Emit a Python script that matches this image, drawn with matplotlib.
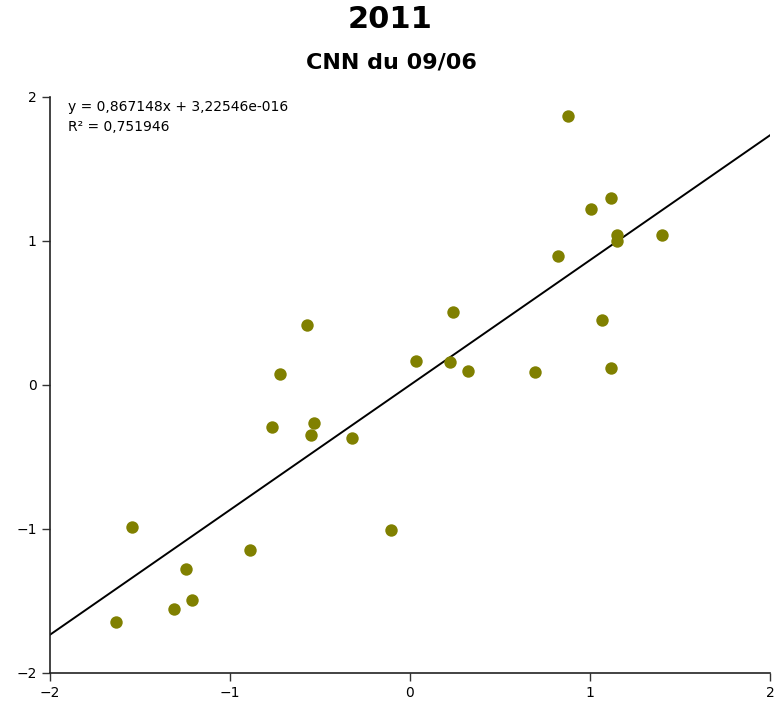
import numpy as np
import matplotlib
matplotlib.use('Agg')
from matplotlib import pyplot as plt

# scatter data
x_vals = [-1.633, -1.544, -1.311, -1.244, -1.211, -0.889, -0.767, -0.722,
          -0.572, -0.550, -0.533, -0.322, -0.106, 0.033, 0.222, 0.239,
          0.322, 0.694, 0.822, 0.878, 1.006, 1.067, 1.117, 1.117,
          1.150, 1.150, 1.400]
y_vals = [-1.646, -0.986, -1.556, -1.278, -1.493, -1.146, -0.292, 0.076,
          0.417, -0.347, -0.264, -0.368, -1.007, 0.167, 0.160, 0.507,
          0.097, 0.090, 0.896, 1.868, 1.222, 0.451, 1.299, 0.118,
          1.042, 1.000, 1.042]

# regression line
slope = 0.867148
intercept = 3.22546e-16
r2 = 0.751946

ticks = [-2, -1, 0, 1, 2]
point_color = '#808000'

fig = plt.figure(figsize=(7.76, 7.04), dpi=100)
ax = fig.add_axes([50 / 776, 31 / 704, 720 / 776, 576 / 704])

ax.scatter(x_vals, y_vals, s=80, color=point_color, zorder=3, linewidths=0)

line_x = np.array([-2.0, 2.0])
ax.plot(line_x, slope * line_x + intercept, color='black', lw=1.4, zorder=2)

ax.set_xlim(-2, 2)
ax.set_ylim(-2, 2)
ax.set_xticks(ticks)
ax.set_yticks(ticks)
ax.set_xticklabels([str(t).replace('-', '\u2212') for t in ticks])
ax.set_yticklabels([str(t).replace('-', '\u2212') for t in ticks])
ax.tick_params(direction='out', length=6, width=1, labelsize=10, color='#333333')

for side in ['top', 'right']:
    ax.spines[side].set_visible(False)
for side in ['left', 'bottom']:
    ax.spines[side].set_linewidth(1.2)
    ax.spines[side].set_color('#222222')

# equation text
eq_text = 'y = {:.6f}x + {}'.format(slope, '3,22546e-016').replace('.', ',')
r2_text = 'R\u00b2 = {:.6f}'.format(r2).replace('.', ',')
ax.text(0.025, 0.995, eq_text + '\n' + r2_text, transform=ax.transAxes,
        ha='left', va='top', fontsize=10, linespacing=1.6)

fig.text(0.503, 0.972, '2011', ha='center', va='center',
         fontsize=22, fontweight='bold')
fig.text(0.505, 0.911, 'CNN du 09/06', ha='center', va='center',
         fontsize=16, fontweight='bold')

fig.savefig('out.png', dpi=100)
